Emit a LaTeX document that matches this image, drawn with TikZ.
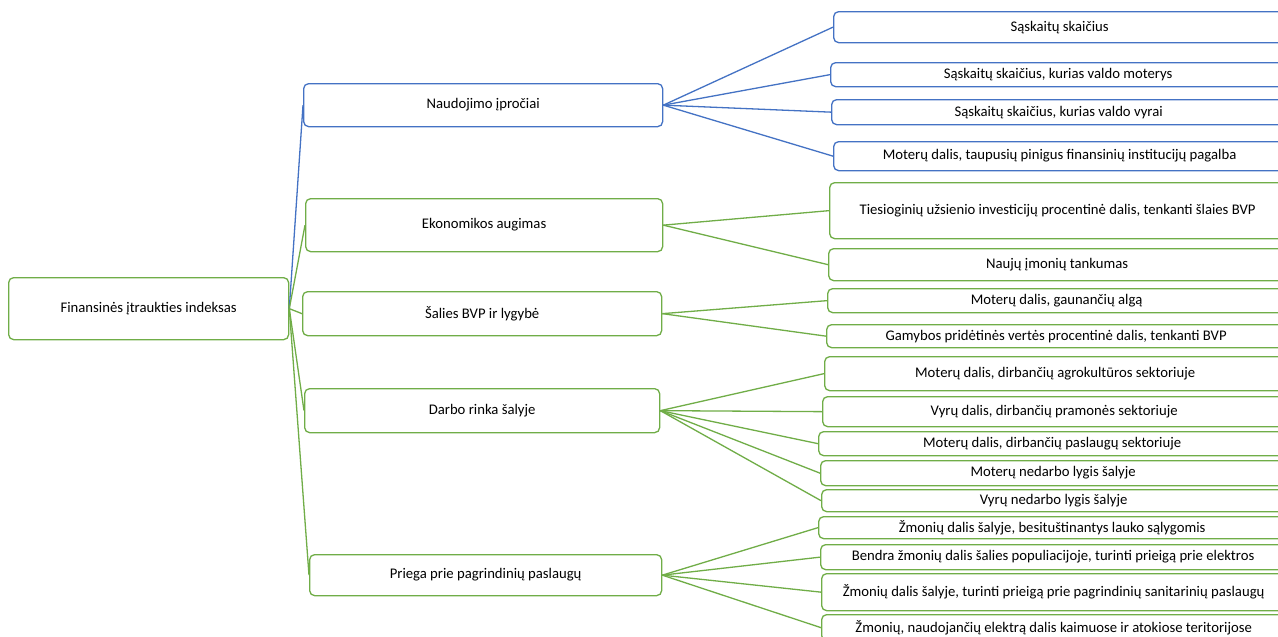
\documentclass[tikz,border=0pt]{standalone}
\usepackage{fontspec}
\setmainfont{Carlito}
\definecolor{mblue}{HTML}{4472C4}
\definecolor{mgreen}{HTML}{70AD47}
\tikzset{
  box/.style={draw, rounded corners=5pt, line width=1.3pt, fill=white, inner sep=0pt,
    anchor=north west, font=\fontsize{14.7}{17}\selectfont, text=black},
  bbox/.style={box, draw=mblue},
  gbox/.style={box, draw=mgreen},
  bline/.style={draw=mblue, line width=1.3pt},
  gline/.style={draw=mgreen, line width=1.3pt},
}
\newcommand{\rbox}[6]{\node[#5, minimum width={1285-#2}, minimum height={#4-#3}] (#1) at (#2,#3) {#6};}
\begin{document}
\begin{tikzpicture}[x=1pt,y=-1pt]
\clip (0,0) rectangle (1278,637);
\fill[white] (0,0) rectangle (1278,637);
% root and level 1
\node[gbox, minimum width=280, minimum height=62] (root) at (8,277) {Finansinės įtraukties indeksas};
\node[bbox, minimum width=359, minimum height=43] (n1) at (303,83) {Naudojimo įpročiai};
\node[gbox, minimum width=357, minimum height=53] (n2) at (305,198) {Ekonomikos augimas};
\node[gbox, minimum width=359, minimum height=44] (n3) at (302,291) {Šalies BVP ir lygybė};
\node[gbox, minimum width=355, minimum height=44] (n4) at (304,388) {Darbo rinka šalyje};
\node[gbox, minimum width=352, minimum height=41] (n5) at (309,554) {Priega prie pagrindinių paslaugų};
% level 2
\rbox{a1}{833}{11}{42}{bbox}{Sąskaitų skaičius}
\rbox{a2}{830}{62}{86}{bbox}{Sąskaitų skaičius, kurias valdo moterys}
\rbox{a3}{831}{99}{124}{bbox}{Sąskaitų skaičius, kurias valdo vyrai}
\rbox{a4}{833}{141}{170}{bbox}{Moterų dalis, taupusių pinigus finansinių institucijų pagalba}
\rbox{b1}{829}{182}{238}{gbox}{Tiesioginių užsienio investicijų procentinė dalis, tenkanti šlaies BVP}
\rbox{b2}{828}{248}{280}{gbox}{Naujų įmonių tankumas}
\rbox{c1}{827}{288}{312}{gbox}{Moterų dalis, gaunančių algą}
\rbox{c2}{826}{324}{347}{gbox}{Gamybos pridėtinės vertės procentinė dalis, tenkanti BVP}
\rbox{d1}{824}{356}{390}{gbox}{Moterų dalis, dirbančių agrokultūros sektoriuje}
\rbox{d2}{822}{396}{426}{gbox}{Vyrų dalis, dirbančių pramonės sektoriuje}
\rbox{d3}{818}{431}{455}{gbox}{Moterų dalis, dirbančių paslaugų sektoriuje}
\rbox{d4}{820}{460}{485}{gbox}{Moterų nedarbo lygis šalyje}
\rbox{d5}{821}{489}{511}{gbox}{Vyrų nedarbo lygis šalyje}
\rbox{e1}{818}{516}{538}{gbox}{Žmonių dalis šalyje, besituštinantys lauko sąlygomis}
\rbox{e2}{820}{544}{569}{gbox}{Bendra žmonių dalis šalies populiacijoje, turinti prieigą prie elektros}
\rbox{e3}{821}{573}{610}{gbox}{Žmonių dalis šalyje, turinti prieigą prie pagrindinių sanitarinių paslaugų}
\rbox{e4}{821}{614}{640}{gbox}{Žmonių, naudojančių elektrą dalis kaimuose ir atokiose teritorijose}
% connectors
\draw[bline] (root.east) -- (n1.west);
\foreach \t in {n2,n3,n4,n5} \draw[gline] (root.east) -- (\t.west);
\foreach \t in {a1,a2,a3,a4} \draw[bline] (n1.east) -- (\t.west);
\foreach \t in {b1,b2} \draw[gline] (n2.east) -- (\t.west);
\foreach \t in {c1,c2} \draw[gline] (n3.east) -- (\t.west);
\foreach \t in {d1,d2,d3,d4,d5} \draw[gline] (n4.east) -- (\t.west);
\foreach \t in {e1,e2,e3,e4} \draw[gline] (n5.east) -- (\t.west);
\end{tikzpicture}
\end{document}
